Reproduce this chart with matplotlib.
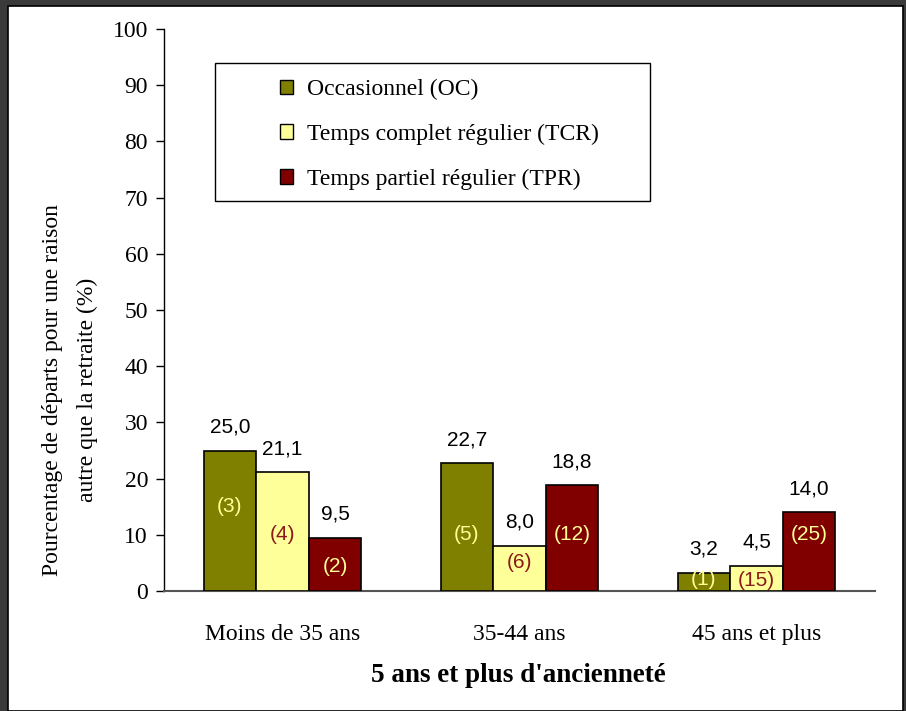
import matplotlib
matplotlib.use("Agg")
import matplotlib.pyplot as plt
import numpy as np
from matplotlib.patches import Rectangle

categories = ["Moins de 35 ans", "35-44 ans", "45 ans et plus"]
series = ["Occasionnel (OC)", "Temps complet régulier (TCR)", "Temps partiel régulier (TPR)"]
oc = [25.0, 22.7, 3.2]
tcr = [21.1, 8.0, 4.5]
tpr = [9.5, 18.8, 14.0]
oc_n = ["(3)", "(5)", "(1)"]
tcr_n = ["(4)", "(6)", "(15)"]
tpr_n = ["(2)", "(12)", "(25)"]

colors = ["#808000", "#FFFF99", "#800000"]
inner_colors = ["#FFFF99", "#8B1A1A", "#FFFF99"]
# y position of the count labels inside bars
inner_y = [[15, 10, 2], [10, 5, 1.8], [4.3, 10, 10]]

serif = "Liberation Serif"
sans = "Liberation Sans"

fig = plt.figure(figsize=(9.06, 7.11), dpi=100)
fig.patch.set_facecolor("#3a3a3a")
fig.patches.append(Rectangle((8/906, 0), 895/906, 705/711, transform=fig.transFigure,
                             facecolor="white", edgecolor="black", lw=1.2, zorder=-5))

ax = fig.add_axes([164/906, 120/711, 711/906, 562/711])
ax.set_facecolor("none")

x = np.arange(len(categories))
w = 0.222
vals = [oc, tcr, tpr]
nums = [oc_n, tcr_n, tpr_n]
for i in range(3):
    xs = x + (i - 1) * w
    bars = ax.bar(xs, vals[i], w, color=colors[i], edgecolor="black", lw=1.2,
                  label=series[i], zorder=3)
    for j in range(3):
        ax.text(xs[j], vals[i][j] + 4.2, f"{vals[i][j]:.1f}".replace(".", ","),
                ha="center", va="center", fontsize=15, family=sans)
        ax.text(xs[j], inner_y[i][j], nums[i][j], ha="center", va="center",
                fontsize=15, family=sans, color=inner_colors[i], zorder=4)

ax.set_xlim(-0.5, 2.5)
ax.set_ylim(0, 100)
ax.set_yticks(range(0, 101, 10))
ax.set_yticklabels([str(v) for v in range(0, 101, 10)], fontsize=17, family=serif)
ax.set_xticks(x)
ax.set_xticklabels(categories, fontsize=17, family=serif)
ax.tick_params(axis="x", length=0, pad=24)
ax.tick_params(axis="y", length=6, direction="out", width=1, pad=5.5)
for s in ["top", "right"]:
    ax.spines[s].set_visible(False)
ax.spines["left"].set_linewidth(1)
ax.spines["bottom"].set_color("#555555")
ax.spines["bottom"].set_linewidth(1.5)

fig.text(518/906, 1 - 676/711, "5 ans et plus d'ancienneté",
         ha="center", va="center", fontsize=19.5, family=serif, fontweight="bold")
fig.text(70/906, 1 - 390/711,
         "Pourcentage de départs pour une raison\nautre que la retraite (%)",
         ha="center", va="center", rotation=90, fontsize=17, family=serif,
         linespacing=1.8)

# legend box drawn separately (padding is uneven in the original)
ax.add_patch(Rectangle(((215-164)/711, (591-201)/562), (650-215)/711, (201-63)/562,
                       transform=ax.transAxes, facecolor="white", edgecolor="black",
                       lw=1, zorder=5))
leg = ax.legend(loc="upper left", bbox_to_anchor=((280-164)/711, (591-79)/562),
                prop={"family": serif, "size": 17}, frameon=False,
                handlelength=0.55, handleheight=0.55, labelspacing=1.0,
                borderpad=0, handletextpad=0.6, borderaxespad=0)
leg.set_zorder(6)
for h in leg.legend_handles:
    h.set_linewidth(1)

fig.savefig("out.png", dpi=100, facecolor=fig.get_facecolor())
